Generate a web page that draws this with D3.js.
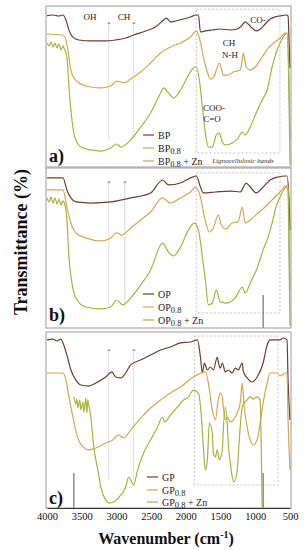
<!DOCTYPE html>
<html>
<head>
<meta charset="utf-8">
<script src="https://cdn.jsdelivr.net/npm/d3@7"></script>
<style>
  body { margin: 0; background: #fff; }
  svg { display: block; }
  svg text { font-family: 'Liberation Serif', 'DejaVu Serif', serif; }
</style>
</head>
<body>
<script>
// FTIR spectra: [wavenumber (cm-1), transmittance (a.u.)]
const bpRaw = [[4000,94],[3914,94.4],[3828,93.8],[3770,94.4],[3727,91.3],[3684,85],[3627,80.7],[3541,78.9],[3369,78.3],[3154,78.3],[3010,78.9],[2867,80.1],[2752,82],[2580,84.5],[2436,87],[2321,91.3],[2279,92.5],[2221,90.1],[2149,90.7],[2035,91.9],[1934,93.2],[1848,94.4],[1819,94.4],[1790,83.9],[1719,84.5],[1619,85.1],[1504,85.7],[1360,85.1],[1260,85.7],[1188,88.2],[1145,90.1],[1102,88.8],[1045,86.3],[987,84.5],[930,85.7],[858,88.8],[786,91.9],[715,93.2],[643,93.8],[557,94.4],[528,93.8],[514,78.9],[500,61.5]]
const bp08 = [[4000,82.6],[3770,82],[3727,78.9],[3699,72.7],[3656,60.2],[3613,55.3],[3512,51.6],[3369,49.7],[3225,49.1],[3082,50.3],[2996,53.4],[2938,52.8],[2895,52.2],[2795,54.7],[2651,59],[2508,64.6],[2364,70.8],[2221,74.5],[2077,77],[1934,80.7],[1848,84.5],[1790,77.6],[1748,68.3],[1690,59],[1647,54.7],[1604,55.3],[1561,60.2],[1518,64.6],[1490,61.5],[1461,57.1],[1389,57.1],[1317,59],[1217,60.2],[1188,66.5],[1174,70.8],[1145,65.2],[1131,62.1],[1073,60.2],[1001,62.1],[901,68.3],[815,73.9],[715,77.6],[643,80.1],[571,83.2],[543,83.2],[514,54],[500,16.8]]
const bp08zn = [[4000,77],[3971,75.2],[3943,77.6],[3914,74.5],[3885,77],[3857,73.9],[3828,76.4],[3799,72.7],[3770,75.2],[3756,73.9],[3713,68.3],[3684,49.7],[3656,35.4],[3613,21.1],[3570,15.5],[3512,12.4],[3369,10.6],[3225,9.9],[3082,11.8],[2996,14.3],[2938,12.4],[2795,16.8],[2651,24.8],[2508,33.5],[2364,46],[2321,49.1],[2250,46],[2178,42.9],[2077,47.8],[1977,55.9],[1891,61.5],[1848,62.1],[1805,54],[1762,37.3],[1719,21.1],[1676,12.4],[1619,12.4],[1561,19.9],[1518,21.1],[1475,15.5],[1432,13.7],[1331,14.9],[1246,18],[1188,21.7],[1145,19.9],[1073,24.8],[987,33.5],[901,41.6],[829,47.8],[758,62.1],[701,70.8],[643,77],[586,81.4],[543,83.2],[514,41.6],[500,1.2]]

const opRaw = [[4000,93.8],[3770,93.8],[3713,86.3],[3656,81.3],[3584,78.8],[3369,78.1],[3082,78.8],[2795,81.3],[2508,84.4],[2336,92.5],[2250,89.4],[2077,90.6],[1934,93.8],[1848,95],[1790,88.1],[1748,84.4],[1575,85],[1360,85.6],[1217,85],[1131,90.6],[1073,88.1],[987,84.4],[901,87.5],[786,92.5],[671,94.4],[571,95],[543,95],[514,80],[500,61.3]]
const op08 = [[4000,86.3],[3770,86.3],[3713,75.6],[3656,65.6],[3584,59.4],[3441,56.3],[3225,54.4],[3082,56.3],[2996,59.4],[2924,58.1],[2795,62.5],[2651,67.5],[2508,72.5],[2336,81.3],[2221,78.1],[2077,81.3],[1934,85],[1862,88.1],[1790,81.9],[1733,69.4],[1662,60],[1604,62.5],[1533,70.6],[1490,64.4],[1418,61.9],[1332,65.6],[1246,66.3],[1188,75.6],[1145,65.6],[1073,67.5],[958,71.9],[858,75.6],[758,80],[643,85],[557,88.8],[528,88.8],[514,61.3],[500,23.8]]
const op08zn = [[4000,81.3],[3971,78.8],[3943,81.9],[3914,78.1],[3885,81.3],[3857,77.5],[3828,80.6],[3799,76.9],[3770,79.4],[3742,76.9],[3713,67.5],[3684,44.4],[3641,28.1],[3584,18.8],[3441,13.1],[3225,11.9],[3082,13.1],[2996,17.5],[2910,14.4],[2795,18.8],[2651,26.9],[2508,36.3],[2336,53.1],[2250,47.5],[2178,45],[2077,50.6],[1963,61.3],[1877,65.6],[1819,61.3],[1762,44.4],[1719,30],[1676,14.4],[1619,15.6],[1561,23.8],[1504,16.3],[1418,15.6],[1288,18.8],[1188,25.6],[1145,21.9],[1073,28.1],[973,37.5],[887,48.8],[815,56.9],[758,65.6],[701,75.6],[614,84.4],[557,88.1],[528,86.3],[514,42.5],[500,1.3]]

const gpRaw = [[4000,95.5],[3914,96],[3857,94.9],[3799,96],[3770,93.8],[3713,86.9],[3656,78.4],[3584,72.7],[3512,69.9],[3398,69.3],[3297,71],[3154,74.4],[3068,77.3],[3010,74.4],[2938,73.9],[2867,76.7],[2795,81.3],[2651,84.1],[2508,86.9],[2364,89.8],[2221,91.5],[2077,93.8],[1934,94.3],[1834,95.5],[1790,85.8],[1762,76.7],[1733,82.4],[1690,78.4],[1647,80.1],[1604,78.4],[1547,85.8],[1533,83],[1504,79.5],[1475,82.4],[1432,77.3],[1389,78.4],[1332,76.7],[1288,79.5],[1246,78.4],[1188,82.4],[1174,77.8],[1117,73.9],[1045,71.6],[973,74.4],[887,82.4],[829,92.6],[786,95.5],[643,95.5],[600,96.6],[543,95.5],[528,72.7],[500,50]]
const gp08 = [[4000,76.7],[3770,76.7],[3727,72.7],[3684,63.1],[3627,51.7],[3570,41.5],[3484,34.7],[3398,33],[3297,34.1],[3154,36.9],[3053,38.6],[2967,41.5],[2895,39.8],[2795,44.3],[2651,51.1],[2508,56.8],[2364,61.4],[2221,65.3],[2077,68.8],[1891,74.4],[1719,77.3],[1676,71],[1619,55.7],[1575,50],[1533,61.4],[1504,65.3],[1475,63.1],[1461,57.4],[1432,50],[1403,51.7],[1360,48.9],[1317,50],[1260,54],[1217,59.7],[1188,71],[1160,57.4],[1117,46],[1073,38.6],[1030,35.8],[973,38.6],[930,48.3],[887,59.7],[829,71],[786,76.7],[686,76.7],[643,75],[571,76.7],[543,76.7],[528,50],[500,21.6]]
const gp08zn = [[3613,63.1],[3584,59.1],[3570,61.9],[3555,56.8],[3527,61.4],[3512,55.7],[3484,60.2],[3469,54.5],[3441,62.5],[3426,54],[3412,61.4],[3398,58.5],[3369,51.7],[3326,34.7],[3268,21.6],[3225,11.9],[3154,4.5],[3110,2.8],[3039,3.4],[2938,7.4],[2867,11.9],[2824,17.6],[2795,15.9],[2752,13.1],[2695,21.6],[2609,31.3],[2508,38.6],[2408,46],[2336,51.7],[2307,48.9],[2221,52.8],[2121,57.4],[2035,61.4],[1963,63.1],[1891,67],[1819,65.3],[1776,51.7],[1748,34.7],[1719,21.6],[1690,27.3],[1662,48.3],[1619,42.6],[1604,31.3],[1575,29],[1547,33],[1518,27.3],[1475,33],[1461,44.3],[1432,57.4],[1403,47.2],[1389,36.9],[1360,25.6],[1332,17.6],[1303,14.8],[1260,21.6],[1231,38.6],[1188,57.4],[1160,59.7],[1117,61.4],[1073,63.1],[1030,61.9],[973,63.1],[930,61.4],[916,38.6],[901,0.6]]

const xTicks = [4000, 3500, 3000, 2500, 2000, 1500, 1000, 500]
const colors = ['#6e3c30', '#d8a650', '#a6b43e']
const serif = "'Liberation Serif', 'Times New Roman', serif"

const W = 304, H = 550
const svg = d3.select('body').append('svg').attr('width', W).attr('height', H)
  .attr('font-family', serif)

const x = d3.scaleLinear().domain([4000, 500]).range([47, 290])
const frameL = 46, frameR = 291

const panels = [
  {id: 'a', top: 6, bottom: 167, series: [bpRaw, bp08, bp08zn], names: ['BP', 'BP', 'BP'],
    legendX: 143, legendY: [135, 148, 161], label: 'a)', labelY: 162,
    box: [1850, 645, 98, 8.7], marks: [3110, 2752], markTop: 89, markBot: 17, bars: []},
  {id: 'b', top: 168, bottom: 328, series: [opRaw, op08, op08zn], names: ['OP', 'OP', 'OP'],
    legendX: 143, legendY: [294, 307, 320], label: 'b)', labelY: 321,
    box: [1850, 645, 97, 9.4], marks: [3110, 2880], markTop: 90.6, markBot: 13, bars: [[887, 20.6]]},
  {id: 'c', top: 332, bottom: 508, series: [gpRaw, gp08, gp08zn], names: ['GP', 'GP', 'GP'],
    legendX: 147, legendY: [477, 490, 502], label: 'c)', labelY: 504,
    box: [1877, 672, 97.7, 13.1], marks: [3110, 2752], markTop: 89, markBot: 16, bars: [[3613, 19.9], [887, 19.9]]}
]

panels.forEach(function (p) {
  const y = d3.scaleLinear().domain([0, 100]).range([p.bottom, p.top])
  const g = svg.append('g')

  g.append('clipPath').attr('id', 'clip-' + p.id)
    .append('rect').attr('x', frameL).attr('y', p.top).attr('width', frameR - frameL).attr('height', p.bottom - p.top)

  // dashed box of lignocellulosic bands
  g.append('rect')
    .attr('x', x(p.box[0])).attr('y', y(p.box[2]))
    .attr('width', x(p.box[1]) - x(p.box[0])).attr('height', y(p.box[3]) - y(p.box[2]))
    .attr('fill', 'none').attr('stroke', '#b5b5b5').attr('stroke-width', 0.8)
    .attr('stroke-dasharray', '2,2')

  // vertical marker lines
  p.marks.forEach(function (w) {
    g.append('line')
      .attr('x1', x(w)).attr('x2', x(w)).attr('y1', y(p.markTop)).attr('y2', y(p.markBot))
      .attr('stroke', '#d4d4d4').attr('stroke-width', 0.8)
    g.append('text').attr('x', x(w)).attr('y', y(p.markTop) + 2)
      .attr('text-anchor', 'middle').attr('font-size', 7).attr('fill', '#555').text('*')
  })

  p.bars.forEach(function (b) {
    g.append('line')
      .attr('x1', x(b[0])).attr('x2', x(b[0])).attr('y1', y(b[1])).attr('y2', y(0))
      .attr('stroke', '#555').attr('stroke-width', 1)
  })

  const line = d3.line().x(d => x(d[0])).y(d => y(d[1])).curve(d3.curveMonotoneX)
  const clipG = g.append('g').attr('clip-path', 'url(#clip-' + p.id + ')')
  p.series.forEach(function (s, i) {
    clipG.append('path').datum(s)
      .attr('d', line)
      .attr('fill', 'none').attr('stroke', colors[i]).attr('stroke-width', 1.2)
  })

  // frame
  g.append('rect')
    .attr('x', frameL).attr('y', p.top).attr('width', frameR - frameL).attr('height', p.bottom - p.top)
    .attr('fill', 'none').attr('stroke', '#9a9a9a').attr('stroke-width', 1)

  // legend
  p.names.forEach(function (n, i) {
    const ly = p.legendY[i]
    g.append('line').attr('x1', p.legendX).attr('x2', p.legendX + 11)
      .attr('y1', ly).attr('y2', ly).attr('stroke', colors[i]).attr('stroke-width', 1.2)
    const t = g.append('text').attr('x', p.legendX + 15).attr('y', ly + 3.5)
      .attr('font-size', 10).attr('fill', '#222')
    t.append('tspan').text(n)
    if (i > 0) {
      t.append('tspan').attr('dy', 2).attr('font-size', 8.5).text('0.8')
      if (i === 2) t.append('tspan').attr('dy', -2).text(' + Zn')
    }
  })

  g.append('text').attr('x', 49).attr('y', p.labelY)
    .attr('font-size', 18).attr('font-weight', 'bold').attr('fill', '#111').text(p.label)
})

// annotations in panel a
const notes = [
  ['OH', 90, 20], ['CH', 124, 20], ['CO-', 258, 23],
  ['CH', 229, 46], ['N-H', 230, 58], ['COO-', 214, 111], ['C=O', 212, 122]
]
notes.forEach(function (n) {
  svg.append('text').attr('x', n[1]).attr('y', n[2]).attr('text-anchor', 'middle')
    .attr('font-size', 9).attr('fill', '#222').text(n[0])
})
svg.append('text').attr('x', 243).attr('y', 163).attr('text-anchor', 'middle')
  .attr('font-size', 7).attr('font-style', 'italic').attr('fill', '#333').text('Lignocellulosic bands')

// x axis
const xAxis = svg.append('g').attr('transform', 'translate(0,508)')
  .call(d3.axisBottom(x).tickValues(xTicks).tickSize(0).tickPadding(5).tickFormat(d3.format('d')))
xAxis.attr('font-family', serif)
xAxis.select('.domain').attr('stroke', '#333')
xAxis.selectAll('text').attr('font-size', 10.5).attr('fill', '#111')

const xt = svg.append('text').attr('x', 166).attr('y', 544).attr('text-anchor', 'middle')
  .attr('font-size', 16).attr('font-weight', 'bold').attr('fill', '#111')
xt.append('tspan').text('Wavenumber (cm')
xt.append('tspan').attr('dy', -6).attr('font-size', 10).text('-1')
xt.append('tspan').attr('dy', 6).text(')')

svg.append('text').attr('transform', 'translate(27,242) rotate(-90)').attr('text-anchor', 'middle')
  .attr('font-size', 18).attr('font-weight', 'bold').attr('fill', '#111').text('Transmittance (%)')
</script>
</body>
</html>
